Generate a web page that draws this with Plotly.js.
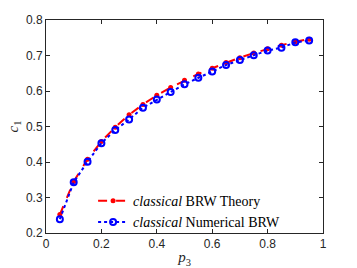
<!DOCTYPE html>
<html><head><meta charset="utf-8">
<script src="https://cdn.plot.ly/plotly-3.0.1.min.js"></script>
<style>html,body{margin:0;padding:0;background:#fff}#c{width:357px;height:268px}</style>
</head><body><div id="c"></div>
<script>
const p3 = [0.05,0.10,0.15,0.20,0.25,0.30,0.35,0.40,0.45,0.50,0.55,0.60,0.65,0.70,0.75,0.80,0.85,0.90,0.95];
const theory = [0.252,0.345,0.408,0.458,0.498,0.533,0.562,0.588,0.610,0.630,0.648,0.664,0.680,0.694,0.707,0.719,0.729,0.739,0.746];
const numerical = [0.239,0.343,0.401,0.453,0.490,0.520,0.553,0.576,0.597,0.619,0.637,0.655,0.673,0.687,0.701,0.714,0.722,0.737,0.742];
const xTicks = [0,0.2,0.4,0.6,0.8,1];
const xTickLabels = ['0','0.2','0.4','0.6','0.8','1'];
const yTicks = [0.2,0.3,0.4,0.5,0.6,0.7,0.8];
const yTickLabels = ['0.2','0.3','0.4','0.5','0.6','0.7','0.8'];

const traces = [
  {x:p3, y:theory, mode:'lines+markers', name:'<i>classical</i> BRW Theory',
   line:{color:'#ff0000', width:2, dash:'dash'}, marker:{color:'#ff0000', size:5, symbol:'circle'}},
  {x:p3, y:numerical, mode:'lines+markers', name:'<i>classical</i> Numerical BRW',
   line:{color:'#0000ff', width:2, dash:'dot'}, marker:{color:'#0000ff', size:6, symbol:'circle-open', line:{width:2,color:'#0000ff'}}}
];
const axisCommon = {showgrid:false, zeroline:false, showline:true, linecolor:'#262626', linewidth:1,
  mirror:'ticks', ticks:'inside', ticklen:4, tickcolor:'#262626',
  tickfont:{family:'Liberation Sans, Arial, sans-serif', size:12, color:'#262626'}};
const layout = {
  width:357, height:268, margin:{l:46, r:34, t:20, b:35},
  paper_bgcolor:'#fff', plot_bgcolor:'#fff', showlegend:true,
  xaxis:Object.assign({}, axisCommon, {range:[0,1], tickvals:xTicks, ticktext:xTickLabels,
    title:{text:'<i>p</i><sub>3</sub>', font:{family:'Liberation Serif, serif', size:15, color:'#262626'}, standoff:1}}),
  yaxis:Object.assign({}, axisCommon, {range:[0.2,0.8], tickvals:yTicks, ticktext:yTickLabels,
    title:{text:'<i>c</i><sub>1</sub>', font:{family:'Liberation Serif, serif', size:15, color:'#262626'}, standoff:3}}),
  legend:{x:0.17, y:0.225, xanchor:'left', yanchor:'top', bgcolor:'rgba(255,255,255,0)', borderwidth:0,
    itemwidth:30, tracegroupgap:0,
    font:{family:'Liberation Serif, serif', size:14, color:'#000'}}
};
Plotly.newPlot('c', traces, layout, {staticPlot:true, displayModeBar:false});
</script></body></html>
